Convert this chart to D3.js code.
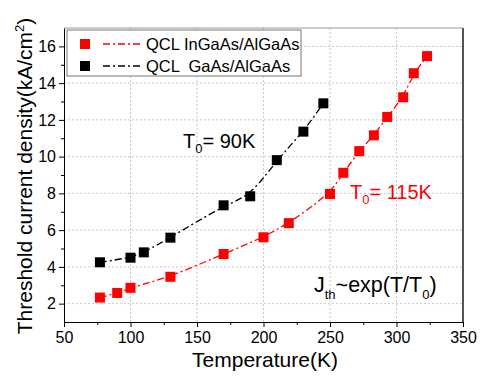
<!DOCTYPE html>
<html>
<head>
<meta charset="utf-8">
<script src="https://cdn.jsdelivr.net/npm/d3@7"></script>
<style>
  body { margin: 0; background: #fff; }
  svg text { font-family: "Liberation Sans", Arial, sans-serif; }
</style>
</head>
<body>
<div id="chart"></div>
<script>
// chart size and plot margins
const width = 480;
const height = 376;
const margin = {left: 64, right: 17, top: 28, bottom: 54};

// data
const tInGaAs = [77, 90, 100, 130, 170, 200, 219, 250, 260, 272, 283, 293, 305, 313, 323];
const jInGaAs = [2.33, 2.58, 2.86, 3.46, 4.7, 5.61, 6.38, 7.97, 9.12, 10.3, 11.16, 12.16, 13.23, 14.54, 15.47];
const tGaAs = [77, 100, 110, 130, 170, 190, 210, 230, 245];
const jGaAs = [4.25, 4.5, 4.79, 5.59, 7.35, 7.84, 9.81, 11.36, 12.9];
const xTicks = [50, 100, 150, 200, 250, 300, 350];
const yTicks = [2, 4, 6, 8, 10, 12, 14, 16];
const seriesNames = ["QCL InGaAs/AlGaAs", "QCL  GaAs/AlGaAs"];
const seriesColors = ["#ff0000", "#000000"];

const svg = d3.select("#chart")
  .append("svg")
  .attr("width", width)
  .attr("height", height);

// scales
const x = d3.scaleLinear().domain([50, 350]).range([margin.left, width - margin.right]);
const y = d3.scaleLinear().domain([1, 17]).range([height - margin.bottom, margin.top]);

// grid lines (dotted)
svg.append("g")
  .selectAll("line")
  .data(xTicks.filter(d => d > 50 && d < 350))
  .join("line")
  .attr("x1", d => x(d)).attr("x2", d => x(d))
  .attr("y1", y(1)).attr("y2", y(17))
  .attr("stroke", "#c8c8c8").attr("stroke-dasharray", "2,2");
svg.append("g")
  .selectAll("line")
  .data(yTicks)
  .join("line")
  .attr("x1", x(50)).attr("x2", x(350))
  .attr("y1", d => y(d)).attr("y2", d => y(d))
  .attr("stroke", "#c8c8c8").attr("stroke-dasharray", "2,2");

// frame top / right
svg.append("line")
  .attr("x1", x(50)).attr("x2", x(350)).attr("y1", y(17)).attr("y2", y(17))
  .attr("stroke", "#999");
svg.append("line")
  .attr("x1", x(350)).attr("x2", x(350)).attr("y1", y(17)).attr("y2", y(1))
  .attr("stroke", "#555").attr("stroke-width", 2);

// minor ticks
svg.append("g")
  .attr("transform", `translate(0,${y(1)})`)
  .call(d3.axisBottom(x).tickValues([75, 125, 175, 225, 275, 325]).tickSize(3).tickFormat(""))
  .call(g => g.select(".domain").remove());
svg.append("g")
  .attr("transform", `translate(${x(50)},0)`)
  .call(d3.axisLeft(y).tickValues([3, 5, 7, 9, 11, 13, 15]).tickSize(3).tickFormat(""))
  .call(g => g.select(".domain").remove());

// main axes
svg.append("g")
  .attr("transform", `translate(0,${y(1)})`)
  .call(d3.axisBottom(x).tickValues(xTicks).tickSize(5).tickSizeOuter(0).tickPadding(5))
  .attr("font-size", "16px")
  .attr("font-family", "Liberation Sans, Arial, sans-serif");
svg.append("g")
  .attr("transform", `translate(${x(50)},0)`)
  .call(d3.axisLeft(y).tickValues(yTicks).tickSize(5).tickSizeOuter(0).tickPadding(3))
  .attr("font-size", "16px")
  .attr("font-family", "Liberation Sans, Arial, sans-serif");

// fit curves and markers
const series = [
  {t: tInGaAs, j: jInGaAs, color: seriesColors[0]},
  {t: tGaAs, j: jGaAs, color: seriesColors[1]}
];
const line = d3.line()
  .x(d => x(d[0]))
  .y(d => y(d[1]))
  .curve(d3.curveBasis);

series.forEach(s => {
  const pts = s.t.map((t, i) => [t, s.j[i]]);
  svg.append("path")
    .datum(pts)
    .attr("d", line)
    .attr("fill", "none")
    .attr("stroke", s.color)
    .attr("stroke-width", 1.3)
    .attr("stroke-dasharray", "7,3,2,3");
  svg.append("g")
    .selectAll("rect")
    .data(pts)
    .join("rect")
    .attr("x", d => x(d[0]) - 5)
    .attr("y", d => y(d[1]) - 5)
    .attr("width", 10)
    .attr("height", 10)
    .attr("fill", s.color);
});

// legend
const legend = svg.append("g");
legend.append("rect")
  .attr("x", 67).attr("y", 30).attr("width", 234).attr("height", 46)
  .attr("fill", "#fff").attr("stroke", "#777");
seriesNames.forEach((name, i) => {
  const ly = 44 + i * 22;
  legend.append("rect")
    .attr("x", 80).attr("y", ly - 5).attr("width", 10).attr("height", 10)
    .attr("fill", seriesColors[i]);
  legend.append("line")
    .attr("x1", 103).attr("x2", 143).attr("y1", ly).attr("y2", ly)
    .attr("stroke", seriesColors[i]).attr("stroke-width", 1.3)
    .attr("stroke-dasharray", "7,3,2,3");
  legend.append("text")
    .attr("x", 146).attr("y", ly + 6)
    .attr("font-size", "16.5px")
    .attr("xml:space", "preserve")
    .style("white-space", "pre")
    .text(name);
});

// annotations
const t90 = svg.append("text").attr("x", 183).attr("y", 148).attr("font-size", "20px");
t90.append("tspan").text("T");
t90.append("tspan").attr("dy", 5).attr("font-size", "13px").text("0");
t90.append("tspan").attr("dy", -5).text("= 90K");

const t115 = svg.append("text").attr("x", 350).attr("y", 199).attr("font-size", "20px").attr("fill", "#ff0000");
t115.append("tspan").text("T");
t115.append("tspan").attr("dy", 5).attr("font-size", "13px").text("0");
t115.append("tspan").attr("dy", -5).text("= 115K");

const jth = svg.append("text").attr("x", 314).attr("y", 292).attr("font-size", "21.5px");
jth.append("tspan").text("J");
jth.append("tspan").attr("dy", 7).attr("font-size", "13px").text("th");
jth.append("tspan").attr("dy", -7).text("~exp(T/T");
jth.append("tspan").attr("dy", 7).attr("font-size", "13px").text("0");
jth.append("tspan").attr("dy", -7).text(")");

// axis titles
svg.append("text")
  .attr("x", 265)
  .attr("y", 367)
  .attr("text-anchor", "middle")
  .attr("font-size", "21px")
  .text("Temperature(K)");

const yl = svg.append("text")
  .attr("transform", "translate(32,176) rotate(-90)")
  .attr("text-anchor", "middle")
  .attr("font-size", "21px");
yl.append("tspan").text("Threshold current density(kA/cm");
yl.append("tspan").attr("dy", -8).attr("font-size", "13px").text("2");
yl.append("tspan").attr("dy", 8).text(")");
</script>
</body>
</html>
